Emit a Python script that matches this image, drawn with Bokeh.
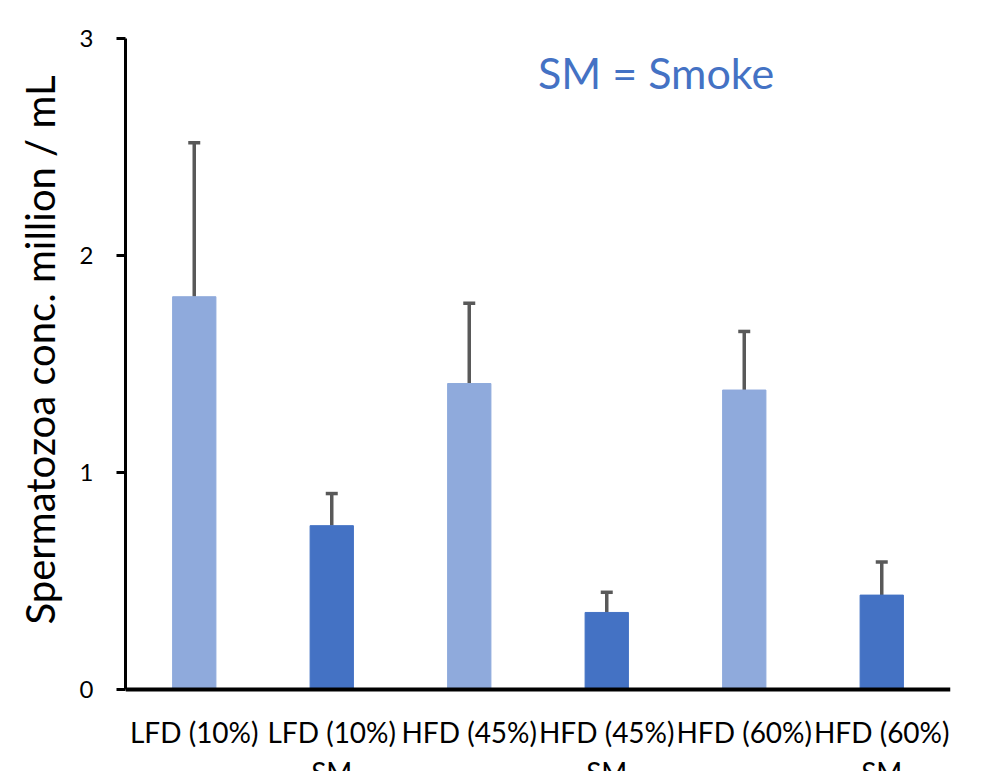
from bokeh.plotting import figure
from bokeh.models import ColumnDataSource, Whisker, TeeHead, Label, FixedTicker, Span, Title
from bokeh.core.properties import value
from bokeh.embed import file_html
from bokeh.resources import INLINE

categories = ["LFD (10%)", "LFD (10%)\nSM", "HFD (45%)", "HFD (45%)\nSM", "HFD (60%)", "HFD (60%)\nSM"]
means = [1.81, 0.755, 1.41, 0.355, 1.38, 0.435]
errors = [0.71, 0.148, 0.37, 0.093, 0.27, 0.152]
colors = ["#8faadc", "#4472c4", "#8faadc", "#4472c4", "#8faadc", "#4472c4"]
y_ticks = [0, 1, 2, 3]
y_label = "Spermatozoa conc. million / mL"
note = "SM = Smoke"

upper = [m + e for m, e in zip(means, errors)]
line1 = [c.split("\n")[0] for c in categories]
line2 = [c.split("\n")[1] if "\n" in c else "" for c in categories]
src = ColumnDataSource(dict(cat=categories, val=means, hi=upper, color=colors,
                            l1=line1, l2=line2, zero=[0] * len(categories)))

FONT = "Lato"
H = 771
TOP = 38
PLOT_H = 651  # pixels covering 0..3
y_min = 3 - (H - TOP) * 3 / PLOT_H

p = figure(x_range=categories, y_range=(y_min, 3), width=990, height=H,
           output_backend="svg", toolbar_location=None, x_axis_location=None,
           min_border_left=125, min_border_right=40, min_border_top=TOP, min_border_bottom=0)
p.outline_line_color = None
p.xgrid.grid_line_color = None
p.ygrid.grid_line_color = None

p.vbar(x="cat", top="val", width=0.315, color="color", source=src)

wh = Whisker(base="cat", upper="hi", lower="val", source=src, dimension="height",
             line_color="#595959", line_width=3.5,
             upper_head=TeeHead(size=12, line_color="#595959", line_width=3.5),
             lower_head=None)
p.add_layout(wh)

# x axis baseline
p.add_layout(Span(location=0, dimension="width", line_color="black", line_width=4))

# category labels (two lines, the second cut by the picture edge as in the reference)
p.text(x="cat", y="zero", text="l1", source=src, text_font=value(FONT), text_font_size="28px",
       text_color="black", text_align="center", text_baseline="top", y_offset=25)
p.text(x="cat", y="zero", text="l2", source=src, text_font=value(FONT), text_font_size="28px",
       text_color="black", text_align="center", text_baseline="top", y_offset=65)

p.yaxis.bounds = (0, 3)
p.yaxis.ticker = FixedTicker(ticks=y_ticks)
p.yaxis.minor_tick_line_color = None
p.yaxis.major_tick_in = 0
p.yaxis.major_tick_out = 9
p.yaxis.major_tick_line_width = 3
p.yaxis.axis_line_width = 3
p.yaxis.axis_line_color = "black"
p.yaxis.major_tick_line_color = "black"
p.yaxis.major_label_text_font = FONT
p.yaxis.major_label_text_font_size = "24px"
p.yaxis.major_label_text_color = "black"
p.yaxis.major_label_standoff = 23

ytitle = Title(text=y_label, align="right", offset=37, text_font=FONT,
               text_font_size="40px", text_font_style="normal", text_color="black",
               standoff=26)
p.add_layout(ytitle, "left")

lab = Label(x=3.0, y=2.843, text=note, text_color="#4472c4",
            text_font=FONT, text_font_size="43px", text_baseline="middle", text_align="left")
p.add_layout(lab)

open("out.html", "w").write(file_html(p, INLINE))
